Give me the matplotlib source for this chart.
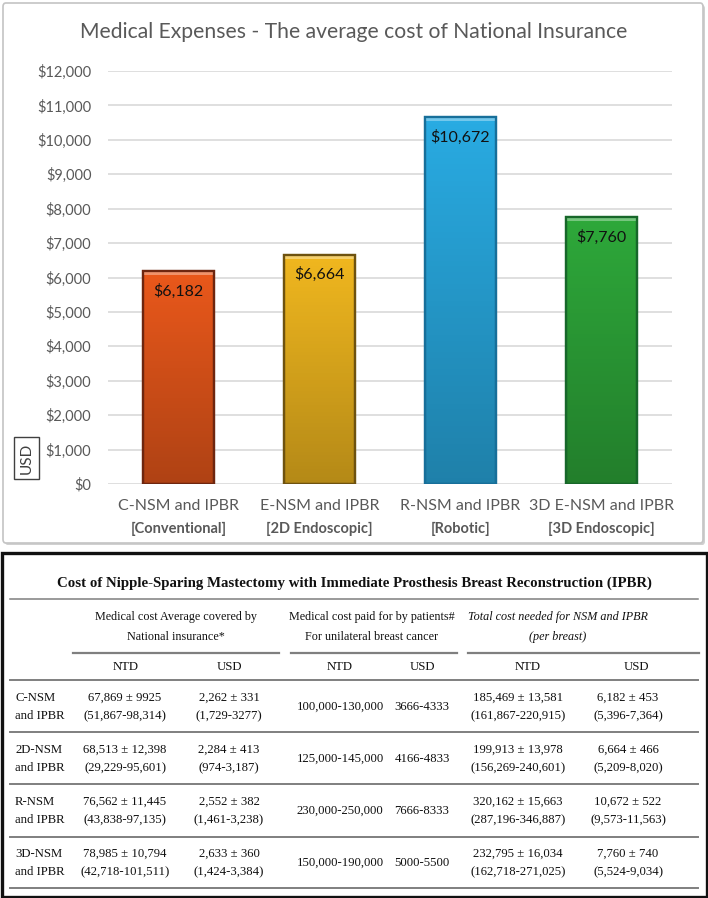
import numpy as np
import matplotlib
matplotlib.use('Agg')
import matplotlib.pyplot as plt
from matplotlib.patches import FancyBboxPatch, Rectangle
from matplotlib.lines import Line2D

W, H = 708, 898

categories = ['C-NSM and IPBR', 'E-NSM and IPBR', 'R-NSM and IPBR', '3D E-NSM and IPBR']
subtitles = ['[Conventional]', '[2D Endoscopic]', '[Robotic]', '[3D Endoscopic]']
avg_cost_usd = [6182, 6664, 10672, 7760]
bar_labels = ['$6,182', '$6,664', '$10,672', '$7,760']
bar_colors = ['#e9581b', '#f0b71f', '#29abe2', '#2ea83a']
edge_colors = ['#6e260f', '#6e520f', '#176f9a', '#17672a']
yticks = [0, 1000, 2000, 3000, 4000, 5000, 6000, 7000, 8000, 9000, 10000, 11000, 12000]

table_title = 'Cost of Nipple-Sparing Mastectomy with Immediate Prosthesis Breast Reconstruction (IPBR)'
group_headers = ['Medical cost Average covered by\nNational insurance*',
                 'Medical cost paid for by patients#\nFor unilateral breast cancer',
                 'Total cost needed for NSM and IPBR\n(per breast)']
sub_headers = ['NTD', 'USD', 'NTD', 'USD', 'NTD', 'USD']
row_labels = ['C-NSM\nand IPBR', '2D-NSM\nand IPBR', 'R-NSM\nand IPBR', '3D-NSM\nand IPBR']
ins_ntd = ['67,869 ± 9925\n(51,867-98,314)', '68,513 ± 12,398\n(29,229-95,601)',
           '76,562 ± 11,445\n(43,838-97,135)', '78,985 ± 10,794\n(42,718-101,511)']
ins_usd = ['2,262 ± 331\n(1,729-3277)', '2,284 ± 413\n(974-3,187)',
           '2,552 ± 382\n(1,461-3,238)', '2,633 ± 360\n(1,424-3,384)']
pat_ntd = ['100,000-130,000', '125,000-145,000', '230,000-250,000', '150,000-190,000']
pat_usd = ['3666-4333', '4166-4833', '7666-8333', '5000-5500']
tot_ntd = ['185,469 ± 13,581\n(161,867-220,915)', '199,913 ± 13,978\n(156,269-240,601)',
           '320,162 ± 15,663\n(287,196-346,887)', '232,795 ± 16,034\n(162,718-271,025)']
tot_usd = ['6,182 ± 453\n(5,396-7,364)', '6,664 ± 466\n(5,209-8,020)',
           '10,672 ± 522\n(9,573-11,563)', '7,760 ± 740\n(5,524-9,034)']

plt.rcParams['font.family'] = ['Lato', 'DejaVu Sans']

def fx(x):
    return x / W

def fy(y):
    return 1 - y / H

fig = plt.figure(figsize=(W / 100, H / 100), dpi=100)
fig.patch.set_facecolor('white')

# chart panel frame (with a soft shadow)
fig.add_artist(FancyBboxPatch((fx(5), fy(545)), fx(700), 540 / H,
                              boxstyle='round,pad=0,rounding_size=0.004',
                              transform=fig.transFigure, facecolor='#d0d0d0',
                              edgecolor='none', zorder=0))
fig.add_artist(FancyBboxPatch((fx(3), fy(543)), fx(700), 540 / H,
                              boxstyle='round,pad=0,rounding_size=0.004',
                              transform=fig.transFigure, facecolor='white',
                              edgecolor='#c4c4c4', linewidth=1.2, zorder=0))

ax = fig.add_axes([fx(108), fy(484), fx(564), (484 - 71) / H])
ax.set_facecolor('none')
x = np.arange(len(categories))
bars = ax.bar(x, avg_cost_usd, width=0.5, color=bar_colors, edgecolor=edge_colors,
              linewidth=1.6, zorder=3)

# shading on the bars: darker towards the bottom, light bevel at the top
for b, fc in zip(bars, bar_colors):
    bb = b.get_bbox()
    shade = np.zeros((100, 1, 4))
    shade[..., 3] = np.linspace(0.25, 0.0, 100).reshape(-1, 1)
    ax.imshow(shade, extent=[bb.x0, bb.x1, bb.y0, bb.y1], origin='lower',
              aspect='auto', zorder=4, interpolation='bilinear')
    ax.add_patch(Rectangle((bb.x0, bb.y1 - 120), bb.width, 120, facecolor='white',
                           alpha=0.35, edgecolor='none', zorder=4))
    ax.add_patch(Rectangle((bb.x0, bb.y0), bb.width, bb.height, facecolor='none',
                           edgecolor=b.get_edgecolor(), linewidth=1.6, zorder=5))

for xi, v, lab in zip(x, avg_cost_usd, bar_labels):
    ax.annotate(lab, (xi, v), xytext=(0, -14.5), textcoords='offset points',
                ha='center', va='center', fontsize=11.5, color='#111111', zorder=6)

ax.set_xlim(-0.5, len(categories) - 0.5)
ax.set_ylim(0, 12000)
ax.set_yticks(yticks)
ax.set_yticklabels(['${:,}'.format(t) for t in yticks])
ax.yaxis.grid(True, color='#d9d9d9', linewidth=1.2, zorder=0)
ax.set_axisbelow(True)
for s in ax.spines.values():
    s.set_visible(False)
ax.tick_params(axis='y', length=0, pad=12, labelsize=10.5, labelcolor='#595959')
ax.set_xticks(x)
ax.set_xticklabels(categories)
ax.tick_params(axis='x', length=0, pad=11, labelsize=11.5, labelcolor='#595959')
for xi, sub in zip(x, subtitles):
    ax.annotate(sub, (xi, 0), xycoords=('data', 'axes fraction'), xytext=(0, -32),
                textcoords='offset points', ha='center', va='center',
                fontsize=10.5, fontweight='bold', color='#595959')

fig.text(fx(26.5), fy(458), 'USD', rotation=90, ha='center', va='center', fontsize=11,
         color='#404040',
         bbox=dict(boxstyle='square,pad=0.35', facecolor='white', edgecolor='#404040', linewidth=1))

fig.text(0.5, fy(32), 'Medical Expenses - The average cost of National Insurance',
         ha='center', va='center', fontsize=15.2, color='#595959')

# table -----------------------------------------------------------------------
fig.add_artist(Rectangle((fx(1.5), fy(896.5)), fx(705), (896.5 - 553) / H,
                         transform=fig.transFigure, facecolor='white',
                         edgecolor='#111111', linewidth=2.4, zorder=1))

serif = ['Liberation Serif', 'DejaVu Serif']

def hline(x0, x1, y, lw=1.1, color='#7f7f7f'):
    fig.add_artist(Line2D([fx(x0), fx(x1)], [fy(y), fy(y)], transform=fig.transFigure,
                          color=color, linewidth=lw, zorder=2))

fig.text(0.5, fy(583), table_title, ha='center', va='center', fontsize=10.7,
         fontweight='bold', family=serif, color='#111111', zorder=3)
hline(10, 698, 599)

group_x = [176, 372, 558]
for gx, gh, style in zip(group_x, group_headers, ['normal', 'normal', 'italic']):
    fig.text(fx(gx), fy(627), gh, ha='center', va='center', fontsize=8.7,
             family=serif, style=style, color='#111111', linespacing=1.85, zorder=3)
for x0, x1 in [(73, 279), (291, 457), (468, 699)]:
    hline(x0, x1, 653, lw=1.6)

head_x = [126, 229, 340, 422, 528, 636]
for cx, sh in zip(head_x, sub_headers):
    fig.text(fx(cx), fy(667), sh, ha='center', va='center', fontsize=9.2,
             family=serif, color='#111111', zorder=3)
hline(10, 698, 680, lw=1.4)

col_x = [125, 229, 340, 422, 518, 628]
row_y = [707, 759, 811, 863]
line_y = [732, 784, 837, 888]
cols = [ins_ntd, ins_usd, pat_ntd, pat_usd, tot_ntd, tot_usd]
for i, ry in enumerate(row_y):
    fig.text(fx(15), fy(ry), row_labels[i], ha='left', va='center', fontsize=9.2,
             family=serif, color='#111111', linespacing=1.75, zorder=3)
    for cx, col in zip(col_x, cols):
        fig.text(fx(cx), fy(ry), col[i], ha='center', va='center', fontsize=9.2,
                 family=serif, color='#111111', linespacing=1.75, zorder=3)
    hline(10, 698, line_y[i], lw=1.4)

plt.savefig('out.png', dpi=100)
